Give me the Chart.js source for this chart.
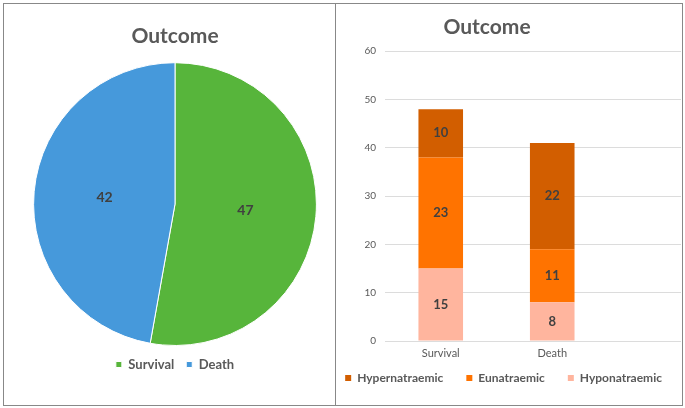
<!DOCTYPE html>
<html>
<head>
<meta charset="utf-8">
<script src="https://cdn.jsdelivr.net/npm/chart.js@4/dist/chart.umd.min.js"></script>
<style>
  body { margin: 0; background: #fff; }
  .panel { position: absolute; top: 3px; height: 403px; border: 1px solid #888; box-sizing: border-box; }
  canvas { position: absolute; }
</style>
</head>
<body>
<div class="panel" style="left:3px; width:333px;"></div>
<div class="panel" style="left:335px; width:348px;"></div>
<canvas id="pieChart" width="330" height="400" style="left:4px; top:4px;"></canvas>
<canvas id="barChart" width="345" height="400" style="left:336px; top:4px;"></canvas>
<script>
// data
const outcomeLabels = ['Survival', 'Death'];
const outcomeCounts = [47, 42];
const outcomeColors = ['#57B53B', '#4699DB'];

const groupLabels = ['Survival', 'Death'];
const hyponatraemic = [15, 8];
const eunatraemic = [23, 11];
const hypernatraemic = [10, 22];
const yTicks = [0, 10, 20, 30, 40, 50, 60];

Chart.defaults.font.family = 'Lato, "Open Sans", sans-serif';
Chart.defaults.color = '#595959';

// write the numbers inside each slice / bar segment
const valueLabels = {
    id: 'valueLabels',
    afterDatasetsDraw(chart, args, opts) {
        const ctx = chart.ctx;
        ctx.save();
        ctx.font = 'bold ' + opts.size + 'px Lato, sans-serif';
        ctx.fillStyle = '#404040';
        ctx.textAlign = 'center';
        ctx.textBaseline = 'middle';
        chart.data.datasets.forEach((ds, i) => {
            chart.getDatasetMeta(i).data.forEach((el, j) => {
                let x, y;
                if (chart.config.type === 'pie') {
                    const p = el.tooltipPosition();
                    x = p.x; y = p.y;
                } else {
                    x = el.x; y = (el.y + el.base) / 2;
                }
                const v = ds.data[j];
                ctx.fillText(typeof v === 'object' ? v.y : v, x, y);
            });
        });
        ctx.restore();
    }
};

const titleFont = { size: 21, weight: 'bold' };

new Chart(document.getElementById('pieChart'), {
    type: 'pie',
    data: {
        labels: outcomeLabels,
        datasets: [{
            data: outcomeCounts,
            backgroundColor: outcomeColors,
            borderColor: '#ffffff',
            borderWidth: 1
        }]
    },
    options: {
        responsive: false,
        animation: false,
        layout: { padding: { left: 12, right: 0, top: 0, bottom: 23 } },
        plugins: {
            title: { display: true, text: 'Outcome', font: titleFont, color: '#595959', padding: { top: 20, bottom: 13 } },
            legend: {
                position: 'bottom',
                labels: { boxWidth: 6, boxHeight: 6, padding: 12, font: { size: 13, weight: 'bold' }, color: '#595959' }
            },
            tooltip: { enabled: false },
            valueLabels: { size: 14 }
        }
    },
    plugins: [valueLabels]
});

// x positions 1..n, one per group
const point = (arr) => groupLabels.map((g, i) => ({ x: i + 1, y: arr[i] }));

new Chart(document.getElementById('barChart'), {
    type: 'bar',
    data: {
        datasets: [
            { label: 'Hyponatraemic', data: point(hyponatraemic), backgroundColor: '#FFB59E', stack: 'outcome' },
            { label: 'Eunatraemic', data: point(eunatraemic), backgroundColor: '#FF7300', stack: 'outcome' },
            { label: 'Hypernatraemic', data: point(hypernatraemic), backgroundColor: '#D25E00', stack: 'outcome' }
        ]
    },
    options: {
        responsive: false,
        animation: false,
        categoryPercentage: 0.5,
        barPercentage: 0.8,
        layout: { padding: { left: -47, right: -4, top: 0, bottom: 10 } },
        scales: {
            x: {
                type: 'linear',
                bounds: 'data',
                offset: false,
                min: 0.5,
                max: 3.155,
                grid: { display: false, drawTicks: false },
                border: { display: false },
                afterFit(scale) { scale.height = 8; },
                afterBuildTicks(scale) {
                    scale.ticks = groupLabels.map((g, i) => ({ value: i + 1 }));
                },
                ticks: {
                    autoSkip: false,
                    maxRotation: 0,
                    mirror: true,
                    padding: -19,
                    font: { size: 11 },
                    color: '#595959',
                    callback: (v) => groupLabels[v - 1] || ''
                }
            },
            y: {
                min: yTicks[0],
                max: yTicks[yTicks.length - 1],
                grid: { color: '#DCDCDC', drawTicks: false },
                border: { display: false },
                afterFit(scale) { scale.width = 96; },
                ticks: { stepSize: 10, padding: 9, font: { size: 10 }, color: '#595959' }
            }
        },
        plugins: {
            title: { display: true, text: 'Outcome', font: titleFont, color: '#595959', padding: { top: 11, bottom: 11 } },
            legend: {
                position: 'bottom',
                align: 'end',
                reverse: true,
                labels: { boxWidth: 6, boxHeight: 6, padding: 23, font: { size: 12, weight: 'bold' }, color: '#595959' }
            },
            tooltip: { enabled: false },
            valueLabels: { size: 13 }
        }
    },
    plugins: [valueLabels]
});
</script>
</body>
</html>
